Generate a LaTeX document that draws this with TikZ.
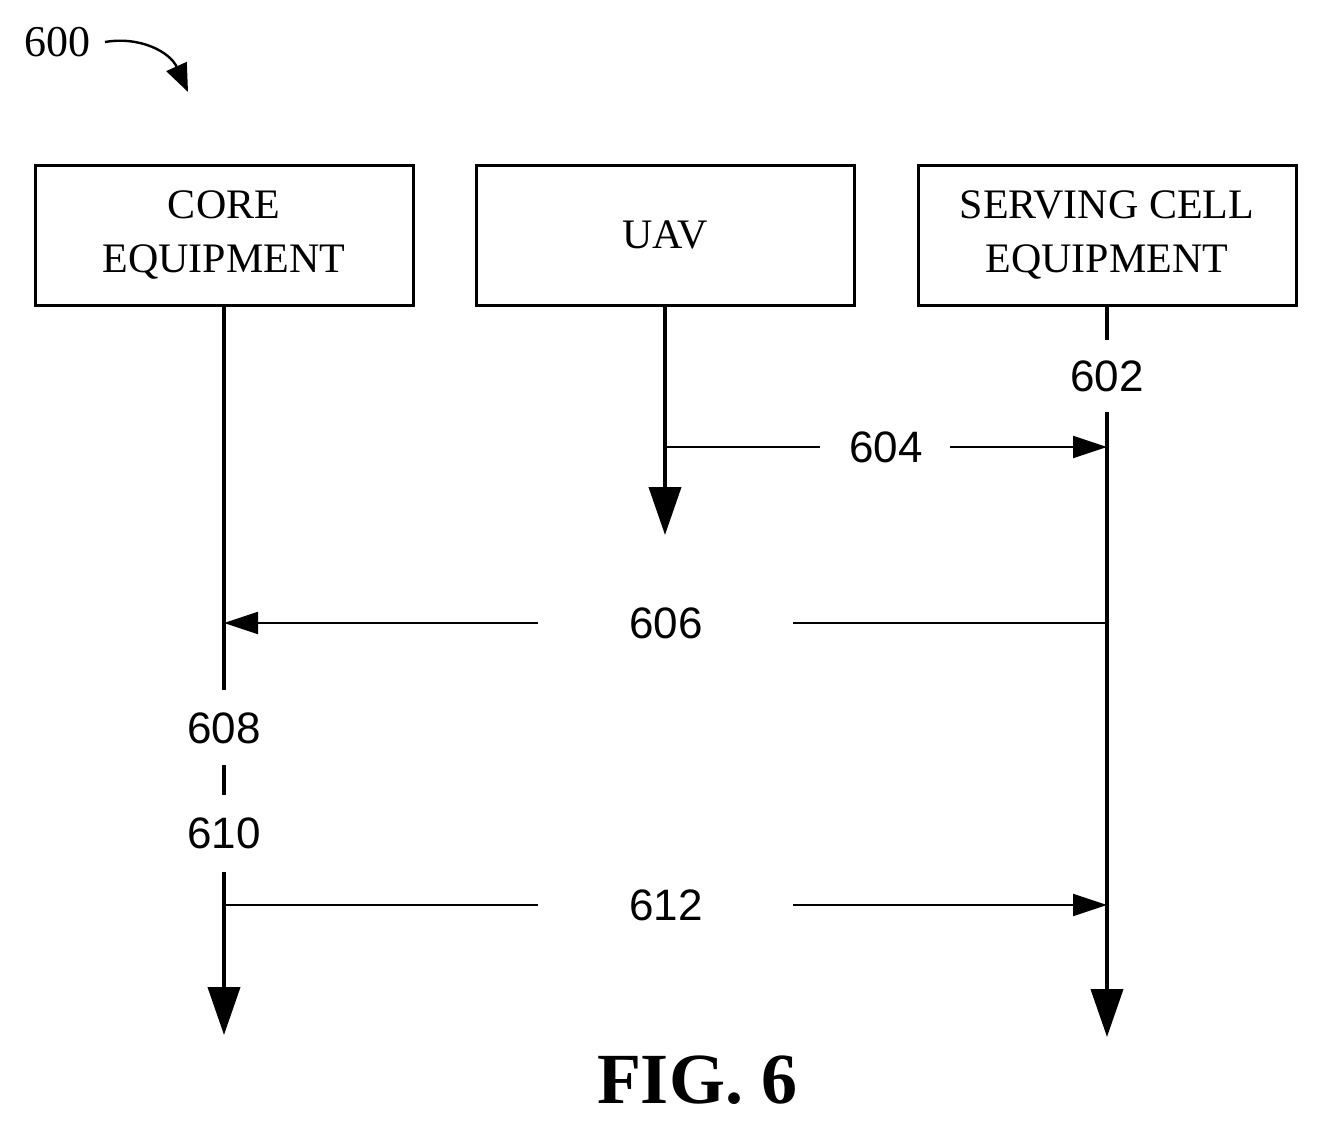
\documentclass[tikz,border=0pt]{standalone}
\usepackage{fontspec}
\setmainfont{Liberation Serif}
\newfontfamily\arial{Liberation Sans}
\usetikzlibrary{arrows.meta}
\begin{document}
\begin{tikzpicture}[x=0.5pt,y=-0.5pt,
  box/.style={draw,line width=1.5pt,minimum width=189pt,minimum height=70pt,align=center,font=\fontsize{21}{27}\selectfont,inner sep=0pt},
  life/.style={line width=2pt},
  bigtip/.style={-{Triangle[length=24pt,width=16pt]}},
  msg/.style={line width=1.1pt},
  smtip/.style={-{Triangle[length=17pt,width=11pt]}},
  num/.style={font=\arial\fontsize{22}{26}\selectfont,inner sep=1pt}]
\useasboundingbox (0,0) rectangle (1318,1124);
\node[box] (core) at (224,235) {CORE\\EQUIPMENT};
\node[box] (uav) at (665,235) {UAV};
\node[box] (serv) at (1107,235) {SERVING CELL\\EQUIPMENT};
% core lifeline
\coordinate (c1) at (224,690);
\node[num] (n608) at (224,728) {608};
\coordinate (d1) at (224,765); \coordinate (d2) at (224,795);
\node[num] (n610) at (224,833) {610};
\coordinate (c2) at (224,872); \coordinate (c3) at (224,1035);
\draw[life] (core.south) -- (c1);
\draw[life] (d1) -- (d2);
\draw[life,bigtip] (c2) -- (c3);
% uav
\coordinate (u1) at (665,535);
\draw[life,bigtip] (uav.south) -- (u1);
% serving
\coordinate (s1) at (1107,340);
\node[num] (n602) at (1107,376) {602};
\coordinate (s2) at (1107,412); \coordinate (s3) at (1107,1037);
\draw[life] (serv.south) -- (s1);
\draw[life,bigtip] (s2) -- (s3);
% 604
\coordinate (a1) at (665,447); \coordinate (a2) at (820,447);
\node[num] (n604) at (886,447) {604};
\coordinate (a3) at (950,447); \coordinate (a4) at (1107,447);
\draw[msg] (a1) -- (a2); \draw[msg,smtip] (a3) -- (a4);
% 606
\coordinate (b1) at (1107,623); \coordinate (b2) at (793,623);
\node[num] (n606) at (666,623) {606};
\coordinate (b3) at (538,623); \coordinate (b4) at (224,623);
\draw[msg] (b1) -- (b2); \draw[msg,smtip] (b3) -- (b4);
% 612
\coordinate (e1) at (224,905); \coordinate (e2) at (538,905);
\node[num] (n612) at (666,905) {612};
\coordinate (e3) at (793,905); \coordinate (e4) at (1107,905);
\draw[msg] (e1) -- (e2); \draw[msg,smtip] (e3) -- (e4);
% 600
\node[font=\fontsize{22}{26}\selectfont,inner sep=0pt] (n600) at (58,42) {600};
\coordinate (p2) at (188,92);
\draw[line width=1.2pt,-{Triangle[length=14pt,width=11pt]}] (105,42) .. controls (140,36) and (170,52) .. (p2);
\node[font=\bfseries\fontsize{36}{40}\selectfont] (fig) at (697,1080) {FIG. 6};
\end{tikzpicture}
\end{document}
